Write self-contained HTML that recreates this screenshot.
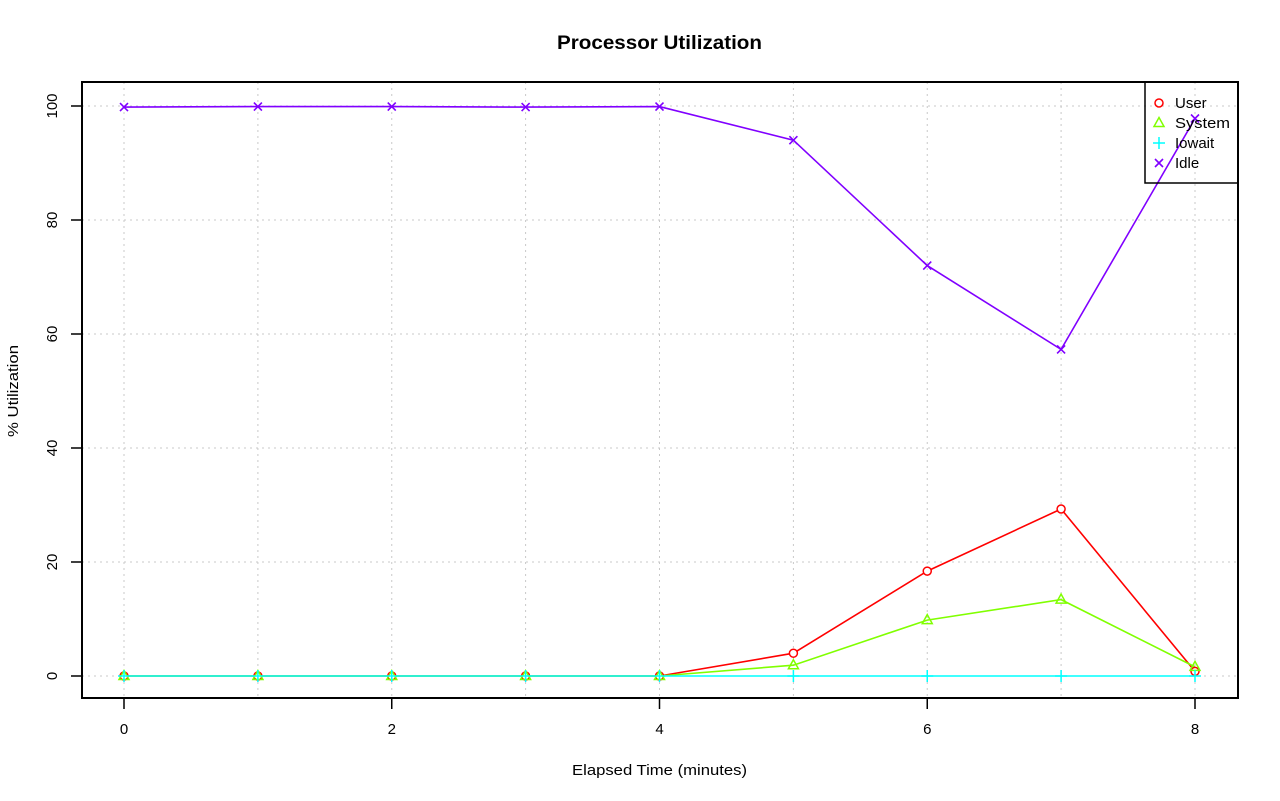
<!DOCTYPE html>
<html><head><style>body{margin:0;background:#fff}svg{display:block}text{font-family:"Liberation Sans",sans-serif;fill:#000}</style></head>
<body>
<svg width="1280" height="801" xmlns="http://www.w3.org/2000/svg">
<rect width="1280" height="801" fill="#fff"/>
<text x="557" y="49" font-size="19" font-weight="bold" textLength="205" lengthAdjust="spacingAndGlyphs">Processor Utilization</text>
<g stroke="#c8c8c8" stroke-dasharray="2,4" stroke-width="1">
<line x1="124" y1="82" x2="124" y2="698"/><line x1="257.9" y1="82" x2="257.9" y2="698"/><line x1="391.75" y1="82" x2="391.75" y2="698"/><line x1="525.6" y1="82" x2="525.6" y2="698"/><line x1="659.5" y1="82" x2="659.5" y2="698"/><line x1="793.4" y1="82" x2="793.4" y2="698"/><line x1="927.25" y1="82" x2="927.25" y2="698"/><line x1="1061.1" y1="82" x2="1061.1" y2="698"/><line x1="1195" y1="82" x2="1195" y2="698"/>
<line x1="82" y1="676" x2="1238" y2="676"/><line x1="82" y1="562" x2="1238" y2="562"/><line x1="82" y1="448" x2="1238" y2="448"/><line x1="82" y1="334" x2="1238" y2="334"/><line x1="82" y1="220" x2="1238" y2="220"/><line x1="82" y1="106" x2="1238" y2="106"/>
</g>
<rect x="82" y="82" width="1156" height="616" fill="none" stroke="#000" stroke-width="2"/>
<g stroke="#000" stroke-width="1.5">
<line x1="124" y1="698" x2="124" y2="709"/><line x1="391.75" y1="698" x2="391.75" y2="709"/><line x1="659.5" y1="698" x2="659.5" y2="709"/><line x1="927.25" y1="698" x2="927.25" y2="709"/><line x1="1195" y1="698" x2="1195" y2="709"/>
<line x1="71" y1="676" x2="82" y2="676"/><line x1="71" y1="562" x2="82" y2="562"/><line x1="71" y1="448" x2="82" y2="448"/><line x1="71" y1="334" x2="82" y2="334"/><line x1="71" y1="220" x2="82" y2="220"/><line x1="71" y1="106" x2="82" y2="106"/>
</g>
<g font-size="15" text-anchor="middle">
<text x="124" y="734">0</text><text x="391.75" y="734">2</text><text x="659.5" y="734">4</text><text x="927.25" y="734">6</text><text x="1195" y="734">8</text>
<text transform="translate(57,676) rotate(-90)">0</text>
<text transform="translate(57,562) rotate(-90)">20</text>
<text transform="translate(57,448) rotate(-90)">40</text>
<text transform="translate(57,334) rotate(-90)">60</text>
<text transform="translate(57,220) rotate(-90)">80</text>
<text transform="translate(57,106) rotate(-90)">100</text>
</g>
<g font-size="15">
<text x="572" y="775" textLength="175" lengthAdjust="spacingAndGlyphs">Elapsed Time (minutes)</text>
<text transform="translate(18,437) rotate(-90)" textLength="92" lengthAdjust="spacingAndGlyphs">% Utilization</text>
</g>
<g fill="none" stroke-width="1.6">
<polyline stroke="#ff0000" points="124,676 257.9,676 391.75,676 525.6,676 659.5,676 793.4,653.2 927.25,571.1 1061.1,509 1195,671.4"/>
<polyline stroke="#80ff00" points="124,676 257.9,676 391.75,676 525.6,676 659.5,676 793.4,665.2 927.25,620.1 1061.1,599.6 1195,666.9"/>
<polyline stroke="#00ffff" points="124,676 257.9,676 391.75,676 525.6,676 659.5,676 793.4,676 927.25,676 1061.1,676 1195,676"/>
<polyline stroke="#8000ff" points="124,107.1 257.9,106.6 391.75,106.6 525.6,107.1 659.5,106.6 793.4,140.2 927.25,265.6 1061.1,349.4 1195,118.5"/>
</g>
<g fill="#fff" stroke="#ff0000" stroke-width="1.5">
<circle cx="124" cy="676" r="4"/><circle cx="257.9" cy="676" r="4"/><circle cx="391.75" cy="676" r="4"/><circle cx="525.6" cy="676" r="4"/><circle cx="659.5" cy="676" r="4"/><circle cx="793.4" cy="653.2" r="4"/><circle cx="927.25" cy="571.1" r="4"/><circle cx="1061.1" cy="509" r="4"/><circle cx="1195" cy="671.4" r="4"/>
</g>
<g fill="none" stroke="#80ff00" stroke-width="1.5">
<path d="M124,670.5l5,9h-10z M257.9,670.5l5,9h-10z M391.75,670.5l5,9h-10z M525.6,670.5l5,9h-10z M659.5,670.5l5,9h-10z M793.4,659.7l5,9h-10z M927.25,614.6l5,9h-10z M1061.1,594.1l5,9h-10z M1195,661.4l5,9h-10z"/>
</g>
<g stroke="#00ffff" stroke-width="1.5">
<path d="M118,676h12M124,670v12 M251.9,676h12M257.9,670v12 M385.75,676h12M391.75,670v12 M519.6,676h12M525.6,670v12 M653.5,676h12M659.5,670v12 M787.4,676h12M793.4,670v12 M921.25,676h12M927.25,670v12 M1055.1,676h12M1061.1,670v12 M1189,676h12M1195,670v12"/>
</g>
<g stroke="#8000ff" stroke-width="1.6">
<path d="M120,103.1l8,8m0,-8l-8,8 M253.9,102.6l8,8m0,-8l-8,8 M387.75,102.6l8,8m0,-8l-8,8 M521.6,103.1l8,8m0,-8l-8,8 M655.5,102.6l8,8m0,-8l-8,8 M789.4,136.2l8,8m0,-8l-8,8 M923.25,261.6l8,8m0,-8l-8,8 M1057.1,345.4l8,8m0,-8l-8,8 M1191,114.5l8,8m0,-8l-8,8"/>
</g>
<rect x="1145" y="82" width="93" height="101" fill="none" stroke="#000" stroke-width="1.5"/>
<circle cx="1159" cy="103" r="4" fill="none" stroke="#ff0000" stroke-width="1.5"/>
<path d="M1159,117.5l5,9h-10z" fill="none" stroke="#80ff00" stroke-width="1.5"/>
<path d="M1153,143h12M1159,137v12" stroke="#00ffff" stroke-width="1.5"/>
<path d="M1155,159l8,8m0,-8l-8,8" stroke="#8000ff" stroke-width="1.6"/>
<g font-size="15">
<text x="1175" y="108">User</text><text x="1175" y="128" textLength="55" lengthAdjust="spacingAndGlyphs">System</text><text x="1175" y="148">Iowait</text><text x="1175" y="168">Idle</text>
</g>
</svg>
</body></html>
